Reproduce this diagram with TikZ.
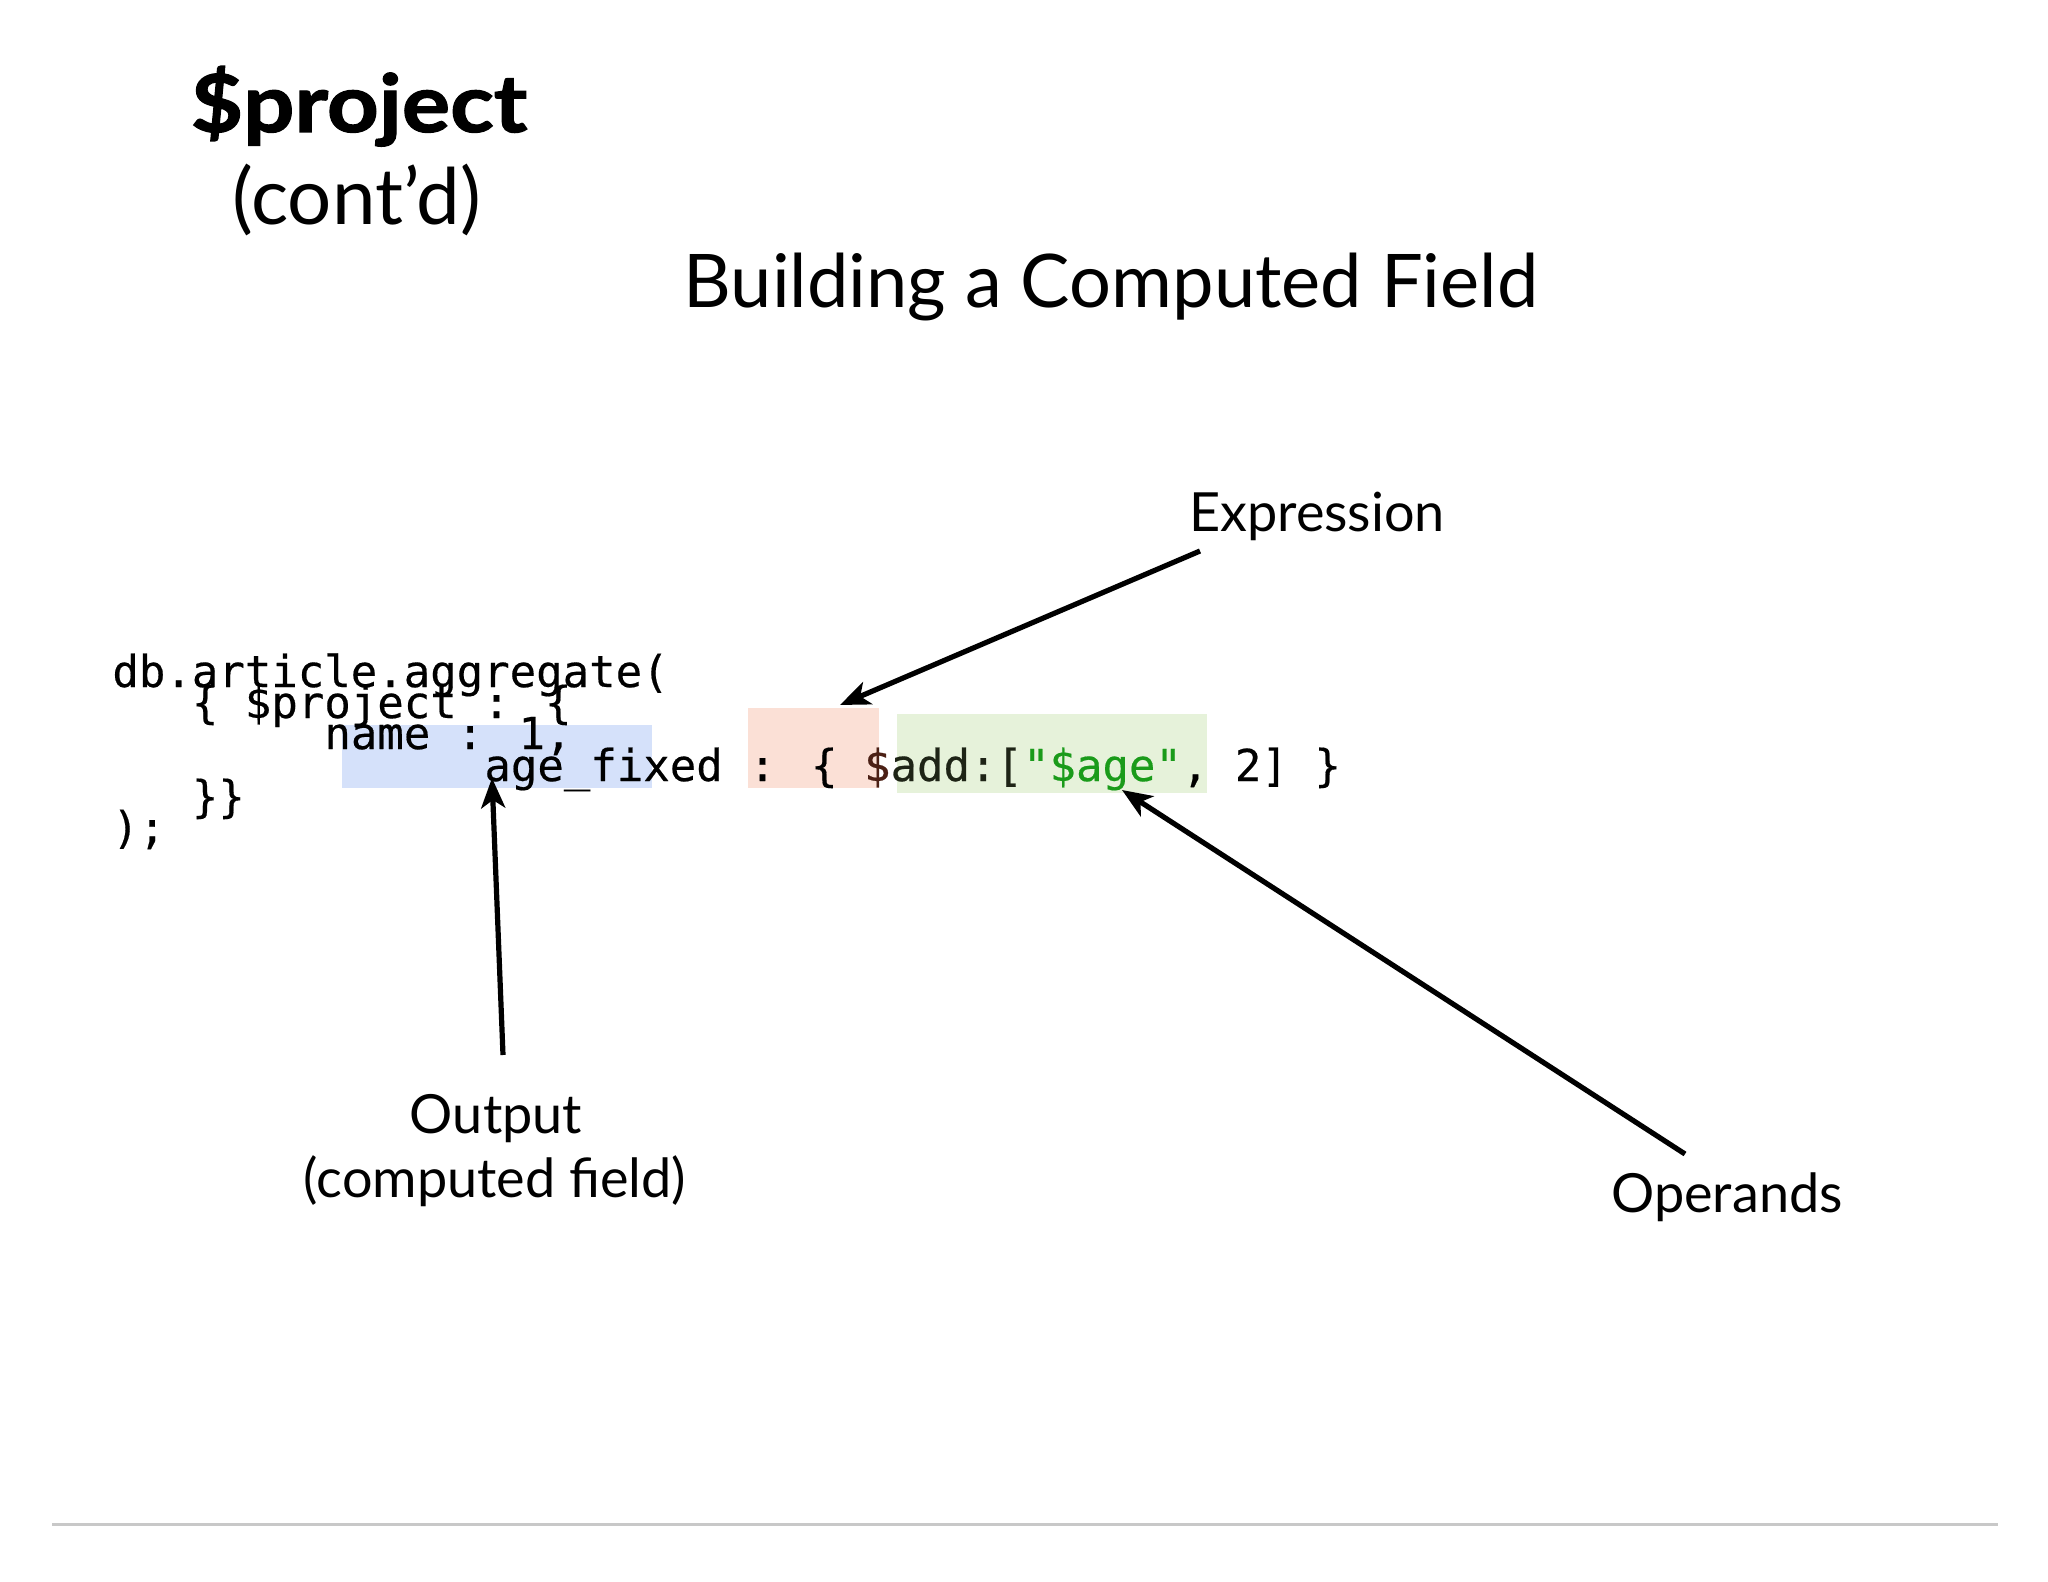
\documentclass[tikz,border=0pt]{standalone}
\usepackage{fontspec}
\setmainfont{Lato}
\newfontfamily\titlefont{Lato}[BoldFeatures={FakeBold=1.6,FakeStretch=1.13}]
\newfontfamily\codefont{DejaVu Sans Mono}[FakeBold=0.4]
\usetikzlibrary{arrows.meta}
\definecolor{hlblue}{RGB}{213,225,250}
\definecolor{hlsalmon}{RGB}{251,224,214}
\definecolor{hlgreen}{RGB}{230,242,218}
\definecolor{codegreen}{RGB}{26,155,26}
\definecolor{codebrown}{RGB}{75,32,21}
\definecolor{codedark}{RGB}{30,36,22}
\definecolor{rulegray}{RGB}{200,200,200}
\tikzset{
  txt/.style={inner sep=0pt, anchor=base, text=black},
  heading/.style={txt, font=\fontsize{37}{44}\selectfont},
  bigtitle/.style={txt, font=\titlefont\fontsize{40}{46}\selectfont\bfseries},
  subtitle/.style={txt, font=\fontsize{39}{46}\selectfont},
  label/.style={txt, font=\fontsize{27}{33}\selectfont},
  code/.style={inner sep=0pt, anchor=base west, font=\codefont\fontsize{22}{26}\selectfont},
  arr/.style={line width=2.6pt, -{Stealth[length=15pt,width=12pt,inset=4pt]}},
}
\begin{document}
\begin{tikzpicture}[x=0.5pt,y=-0.5pt]
\useasboundingbox[fill=white] (0,0) rectangle (2048,1582);

% titles
\node[bigtitle] (ttl) at (359,132) {\$project};
\node[subtitle] (cont) at (357,225) {(cont’d)};
\node[heading] (head) at (1111,308) {Building a Computed Field};

% highlights
\fill[hlblue] (342,725) rectangle (652,788);
\fill[hlsalmon] (748,708) rectangle (879,788);
\fill[hlgreen] (897,714) rectangle (1207,793);

% code
\node[code] (c1) at (112,687) {db.article.aggregate(};
\node[code] (c2) at (191.5,718) {\{ \$project : \{};
\node[code] (c3) at (324,749) {name : 1,};
\node[code] (c4) at (484,781) {age\_fixed : \{ {\color{codebrown}\$}{\color{codedark}add:[}{\color{codegreen}"\$age"}, 2] \}};
\node[code] (c5) at (191.5,812) {\}\}};
\node[code] (c6) at (112,843) {);};

% labels
\node[label] (expr) at (1317,531) {Expression};
\node[label] (outp) at (496,1133) {Output};
\node[label] (outp2) at (495,1197) {(computed field)};
\node[label] (oper) at (1727,1212) {Operands};

% arrow end points
\coordinate (exprStart) at (1200,551);
\coordinate (exprTip) at (840,705);
\coordinate (outStart) at (503,1055);
\coordinate (outTip) at (492,778);
\coordinate (opStart) at (1685,1154);
\coordinate (opTip) at (1122,790);

\draw[arr] (exprStart) -- (exprTip);
\draw[arr] (outStart) -- (outTip);
\draw[arr] (opStart) -- (opTip);

% bottom rule
\coordinate (ruleL) at (52,1524);
\coordinate (ruleR) at (1998,1524);
\draw[rulegray, line width=1.5pt] (ruleL) -- (ruleR);
\end{tikzpicture}
\end{document}
